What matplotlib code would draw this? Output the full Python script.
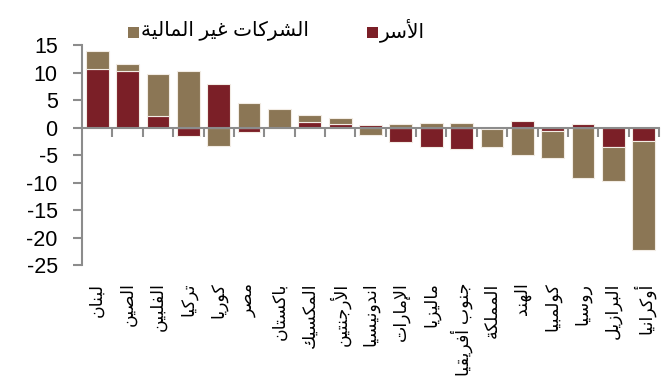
import matplotlib
matplotlib.use("Agg")
import matplotlib.pyplot as plt
from matplotlib.patches import Rectangle
from matplotlib.transforms import blended_transform_factory

# Data (percentage points)
countries = ["لبنان", "الصين", "الفلبين", "تركيا", "كوريا", "مصر", "باكستان",
             "المكسيك", "الأرجنتين", "اندونيسيا", "الإمارات", "ماليزيا",
             "جنوب أفريقيا", "المملكة", "الهند", "كولمبيا", "روسيا",
             "البرازيل", "أوكرانيا"]
households = [10.7, 10.3, 2.1, -1.6, 8.0, -0.9, 0.0, 1.0, 0.6, 0.4, -2.6,
              -3.6, -3.9, -0.35, 1.15, -0.55, 0.65, -3.5, -2.4]
corporates = [3.3, 1.2, 7.6, 10.3, -3.4, 4.5, 3.3, 1.2, 1.2, -1.35, 0.7,
              0.85, 0.8, -3.15, -4.95, -4.95, -9.2, -6.2, -19.8]
yticks = [15, 10, 5, 0, -5, -10, -15, -20, -25]
legend_labels = ["الشركات غير المالية", "الأسر"]

RED = "#7B1F27"
TAN = "#8B7655"
GREY = "#8C8C8C"

# --- minimal Arabic shaping (presentation forms + visual order) ---
_FOUR = {'ب': 0xFE8F, 'ت': 0xFE95, 'ث': 0xFE99, 'ج': 0xFE9D, 'ح': 0xFEA1,
         'خ': 0xFEA5, 'س': 0xFEB1, 'ش': 0xFEB5, 'ص': 0xFEB9, 'ض': 0xFEBD,
         'ط': 0xFEC1, 'ظ': 0xFEC5, 'ع': 0xFEC9, 'غ': 0xFECD, 'ف': 0xFED1,
         'ق': 0xFED5, 'ك': 0xFED9, 'ل': 0xFEDD, 'م': 0xFEE1, 'ن': 0xFEE5,
         'ه': 0xFEE9, 'ي': 0xFEF1}
_TWO = {'ا': 0xFE8D, 'أ': 0xFE83, 'إ': 0xFE87, 'آ': 0xFE81, 'ة': 0xFE93,
        'د': 0xFEA9, 'ذ': 0xFEAB, 'ر': 0xFEAD, 'ز': 0xFEAF, 'و': 0xFEED,
        'ى': 0xFEEF}
_LAM_ALEF = {'آ': 0xFEF5, 'أ': 0xFEF7, 'إ': 0xFEF9, 'ا': 0xFEFB}


def shape(text):
    out = []
    prev_joins = False
    i = 0
    while i < len(text):
        c = text[i]
        nxt = text[i + 1] if i + 1 < len(text) else ''
        if c == 'ل' and nxt in _LAM_ALEF:
            out.append(chr(_LAM_ALEF[nxt] + (1 if prev_joins else 0)))
            prev_joins = False
            i += 2
            continue
        if c in _FOUR:
            nxt_letter = nxt in _FOUR or nxt in _TWO
            if prev_joins and nxt_letter:
                f = 3
            elif prev_joins:
                f = 1
            elif nxt_letter:
                f = 2
            else:
                f = 0
            out.append(chr(_FOUR[c] + f))
            prev_joins = True
        elif c in _TWO:
            out.append(chr(_TWO[c] + (1 if prev_joins else 0)))
            prev_joins = False
        else:
            out.append(c)
            prev_joins = False
        i += 1
    return ''.join(reversed(out))


plt.rcParams['font.family'] = ['Liberation Sans', 'DejaVu Sans']

W, H = 667, 392
fig = plt.figure(figsize=(W / 100, H / 100), dpi=100)
ax = fig.add_axes([0.123, 0.324, 0.865, 0.561])

x = list(range(len(countries)))
# corporates stack on top of households when they share a sign
corp_bottom = [h if (h * c) > 0 else 0 for h, c in zip(households, corporates)]

ax.bar(x, households, width=0.75, color=RED, edgecolor="#f2ece4",
       linewidth=0.8, zorder=2)
ax.bar(x, corporates, bottom=corp_bottom, width=0.75, color=TAN,
       edgecolor="#f2ece4", linewidth=0.8, zorder=2)

ax.set_xlim(-0.5, len(countries) - 0.5)
ax.set_ylim(-25, 15)
ax.set_yticks(yticks)
ax.set_yticklabels([str(v) for v in yticks], fontsize=15.5)

for s in ("top", "right"):
    ax.spines[s].set_visible(False)
ax.spines["left"].set_color(GREY)
ax.spines["left"].set_linewidth(1.5)
ax.spines["bottom"].set_position(("data", 0))
ax.spines["bottom"].set_color(GREY)
ax.spines["bottom"].set_linewidth(1.5)
ax.spines["bottom"].set_zorder(3)

ax.set_xticks([i + 0.5 for i in range(len(countries))])
ax.set_xticklabels([])
ax.tick_params(axis="x", direction="out", length=6.5, width=1.5, color=GREY)
ax.tick_params(axis="y", direction="out", length=6.5, width=1.5, color=GREY,
               pad=11)

trans = blended_transform_factory(ax.transData, ax.transAxes)
for i, name in enumerate(countries):
    ax.text(i, -0.08, shape(name), transform=trans, rotation=90,
            ha="center", va="top", fontsize=12.5)

# legend: square marker followed by label, placed in figure pixels
legend_items = [(TAN, legend_labels[0], 128), (RED, legend_labels[1], 367)]
for color, label, px in legend_items:
    fig.patches.append(Rectangle((px / W, 1 - 38 / H), 11 / W, 11 / H,
                                 transform=fig.transFigure, facecolor=color,
                                 edgecolor="none"))
    fig.text((px + 13) / W, 1 - 30 / H, shape(label), ha="left",
             va="center", fontsize=14.5)

fig.savefig("out.png", dpi=100)
